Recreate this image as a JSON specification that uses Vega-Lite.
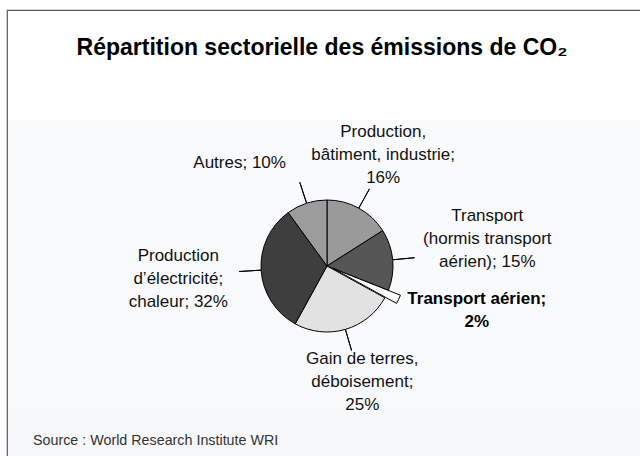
{
  "$schema": "https://vega.github.io/schema/vega-lite/v6.json",
  "width": 640,
  "height": 456,
  "autosize": {"type": "fit", "contains": "padding"},
  "padding": {"left": 7, "top": 10, "right": -7, "bottom": -66},
  "background": "#ffffff",
  "config": {"font": "Liberation Sans"},
  "view": {
    "stroke": "#5a5a5a",
    "strokeWidth": 1.2,
    "fill": {
      "gradient": "linear",
      "x1": 0, "y1": 0, "x2": 0, "y2": 1,
      "stops": [
        {"offset": 0, "color": "#ffffff"},
        {"offset": 0.19, "color": "#ffffff"},
        {"offset": 0.23, "color": "#fafbfc"},
        {"offset": 0.75, "color": "#f8f9fb"},
        {"offset": 1, "color": "#f6f7fa"}
      ]
    }
  },
  "title": {
    "text": "Répartition sectorielle des émissions de CO₂",
    "font": "Liberation Sans",
    "fontSize": 23,
    "fontWeight": "bold",
    "color": "#000000",
    "anchor": "middle",
    "frame": "group",
    "baseline": "alphabetic",
    "offset": -68,
    "dx": -5
  },
  "data": {
    "values": [
      {"secteur": "Production, bâtiment, industrie", "part": 16, "rang": 1, "etiquette": "Production,\nbâtiment, industrie;\n16%"},
      {"secteur": "Transport (hormis transport aérien)", "part": 15, "rang": 2, "etiquette": "Transport\n(hormis transport\naérien);   15%"},
      {"secteur": "Transport aérien", "part": 2, "rang": 3, "etiquette": "Transport aérien;\n2%"},
      {"secteur": "Gain de terres, déboisement", "part": 25, "rang": 4, "etiquette": "Gain de terres,\ndéboisement;\n25%"},
      {"secteur": "Production d'électricité, chaleur", "part": 32, "rang": 5, "etiquette": "Production\nd’électricité;\nchaleur; 32%"},
      {"secteur": "Autres", "part": 10, "rang": 6, "etiquette": "Autres; 10%"}
    ]
  },
  "layer": [
    {
      "mark": {"type": "arc", "radius": 88, "radius2": 66, "padAngle": 3, "fillOpacity": 0, "stroke": "#000000", "strokeWidth": 1},
      "encoding": {
        "theta": {"field": "part", "type": "quantitative", "stack": true},
        "order": {"field": "rang", "type": "quantitative"},
        "strokeOpacity": {"condition": {"test": "datum.secteur === 'Transport aérien'", "value": 0}, "value": 1}
      }
    },
    {
      "mark": {"type": "arc", "radius": 66, "stroke": "#000000", "strokeWidth": 1},
      "encoding": {
        "theta": {"field": "part", "type": "quantitative", "stack": true},
        "order": {"field": "rang", "type": "quantitative"},
        "color": {
          "field": "secteur", "type": "nominal", "legend": null,
          "scale": {
            "domain": ["Production, bâtiment, industrie", "Transport (hormis transport aérien)", "Transport aérien", "Gain de terres, déboisement", "Production d'électricité, chaleur", "Autres"],
            "range": ["#9a9a9a", "#565656", "#ffffff", "#e2e2e2", "#3e3e3e", "#9c9c9c"]
          }
        },
        "fillOpacity": {"condition": {"test": "datum.secteur === 'Transport aérien'", "value": 0}, "value": 1},
        "strokeOpacity": {"condition": {"test": "datum.secteur === 'Transport aérien'", "value": 0}, "value": 1}
      }
    },
    {
      "mark": {"type": "arc", "radius": 72, "stroke": "#000000", "strokeWidth": 1, "xOffset": 6.5, "yOffset": 2.7},
      "encoding": {
        "theta": {"field": "part", "type": "quantitative", "stack": true},
        "order": {"field": "rang", "type": "quantitative"},
        "color": {"field": "secteur", "type": "nominal", "legend": null},
        "fillOpacity": {"condition": {"test": "datum.secteur === 'Transport aérien'", "value": 1}, "value": 0},
        "strokeOpacity": {"condition": {"test": "datum.secteur === 'Transport aérien'", "value": 1}, "value": 0}
      }
    },
    {
      "mark": {"type": "text", "radius": 127, "dx": -5, "dy": -23, "align": "center", "baseline": "middle", "lineBreak": "\n", "lineHeight": 23, "fontSize": 17, "color": "#111111"},
      "encoding": {
        "theta": {"field": "part", "type": "quantitative", "stack": true},
        "order": {"field": "rang", "type": "quantitative"},
        "text": {"condition": {"test": "datum.secteur === 'Production, bâtiment, industrie'", "field": "etiquette"}, "value": ""}
      }
    },
    {
      "mark": {"type": "text", "radius": 160, "dx": 1, "dy": -35, "align": "center", "baseline": "middle", "lineBreak": "\n", "lineHeight": 23, "fontSize": 17, "color": "#111111"},
      "encoding": {
        "theta": {"field": "part", "type": "quantitative", "stack": true},
        "order": {"field": "rang", "type": "quantitative"},
        "text": {"condition": {"test": "datum.secteur === 'Transport (hormis transport aérien)'", "field": "etiquette"}, "value": ""}
      }
    },
    {
      "mark": {"type": "text", "radius": 160, "dx": 5, "dy": -35.5, "align": "center", "baseline": "middle", "lineBreak": "\n", "lineHeight": 23, "fontSize": 17, "fontWeight": "bold", "color": "#000000"},
      "encoding": {
        "theta": {"field": "part", "type": "quantitative", "stack": true},
        "order": {"field": "rang", "type": "quantitative"},
        "text": {"condition": {"test": "datum.secteur === 'Transport aérien'", "field": "etiquette"}, "value": ""}
      }
    },
    {
      "mark": {"type": "text", "radius": 123, "dx": 1, "dy": -25, "align": "center", "baseline": "middle", "lineBreak": "\n", "lineHeight": 23, "fontSize": 17, "color": "#111111"},
      "encoding": {
        "theta": {"field": "part", "type": "quantitative", "stack": true},
        "order": {"field": "rang", "type": "quantitative"},
        "text": {"condition": {"test": "datum.secteur === 'Gain de terres, déboisement'", "field": "etiquette"}, "value": ""}
      }
    },
    {
      "mark": {"type": "text", "radius": 149, "dx": 0, "dy": -19, "align": "center", "baseline": "middle", "lineBreak": "\n", "lineHeight": 23, "fontSize": 17, "color": "#111111"},
      "encoding": {
        "theta": {"field": "part", "type": "quantitative", "stack": true},
        "order": {"field": "rang", "type": "quantitative"},
        "text": {"condition": {"test": "datum.secteur === \"Production d'électricité, chaleur\"", "field": "etiquette"}, "value": ""}
      }
    },
    {
      "mark": {"type": "text", "radius": 108, "dx": -54, "dy": 0, "align": "center", "baseline": "middle", "lineBreak": "\n", "lineHeight": 23, "fontSize": 17, "color": "#111111"},
      "encoding": {
        "theta": {"field": "part", "type": "quantitative", "stack": true},
        "order": {"field": "rang", "type": "quantitative"},
        "text": {"condition": {"test": "datum.secteur === 'Autres'", "field": "etiquette"}, "value": ""}
      }
    },
    {
      "data": {"values": [{"source": "Source : World Research Institute WRI"}]},
      "mark": {"type": "text", "align": "left", "baseline": "alphabetic", "dx": -294, "dy": 179, "font": "Liberation Sans", "fontSize": 14.3, "color": "#333333"},
      "encoding": {"text": {"field": "source", "type": "nominal"}}
    }
  ]
}
